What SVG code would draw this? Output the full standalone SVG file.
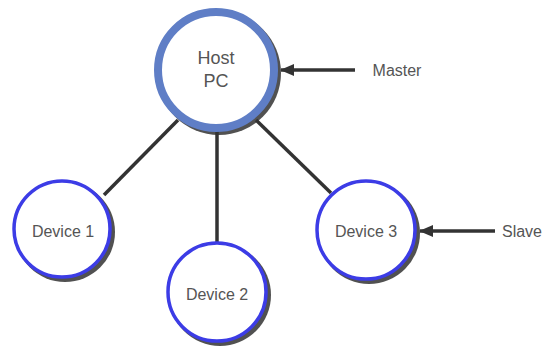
<svg xmlns="http://www.w3.org/2000/svg" width="551" height="349" viewBox="0 0 551 349">
<defs>
<marker id="ah" markerWidth="14" markerHeight="12" refX="13" refY="6" orient="auto" markerUnits="userSpaceOnUse" viewBox="0 0 14 12">
<path d="M0,0 L14,6 L0,12 z" fill="#333"/>
</marker>
</defs>
<style>
.shadow{fill:#333;opacity:0.85}
.dev{fill:#fff;stroke:#3c3ce6;stroke-width:3.5}
.host{fill:#fff;stroke:#5f7ec6;stroke-width:8}
.lbl{font-family:"Liberation Sans",Arial,sans-serif;font-size:16px;fill:#555;text-anchor:middle}
.hl{font-family:"Liberation Sans",Arial,sans-serif;font-size:18px;fill:#555;text-anchor:middle}
.conn{stroke:#333;stroke-width:3.5;fill:none}
.arr{stroke:#333;stroke-width:3.5;fill:none}
</style>
<g id="connectors">
<line class="conn" x1="178" y1="120" x2="104" y2="195"/>
<line class="conn" x1="217" y1="128" x2="217" y2="242"/>
<line class="conn" x1="256" y1="120" x2="331" y2="193"/>
<line class="arr" x1="355" y1="70" x2="281" y2="70" marker-end="url(#ah)"/>
<line class="arr" x1="495" y1="231" x2="420" y2="231" marker-end="url(#ah)"/>
</g>
<g id="host">
<circle class="shadow" cx="219" cy="73" r="62"/>
<circle class="host" cx="216" cy="70" r="58"/>
<text class="hl" x="216" y="64">Host</text>
<text class="hl" x="216" y="87">PC</text>
</g>
<g id="device1">
<circle class="shadow" cx="65" cy="232" r="50"/>
<circle class="dev" cx="62" cy="229" r="48"/>
<text class="lbl" x="63" y="237">Device 1</text>
</g>
<g id="device2">
<circle class="shadow" cx="220" cy="295" r="51"/>
<circle class="dev" cx="217" cy="292" r="49"/>
<text class="lbl" x="217" y="300">Device 2</text>
</g>
<g id="device3">
<circle class="shadow" cx="369" cy="233" r="51"/>
<circle class="dev" cx="366" cy="230" r="49"/>
<text class="lbl" x="366" y="237">Device 3</text>
</g>
<g id="labels">
<text class="lbl" x="397" y="76">Master</text>
<text class="lbl" x="522" y="237">Slave</text>
</g>
</svg>
